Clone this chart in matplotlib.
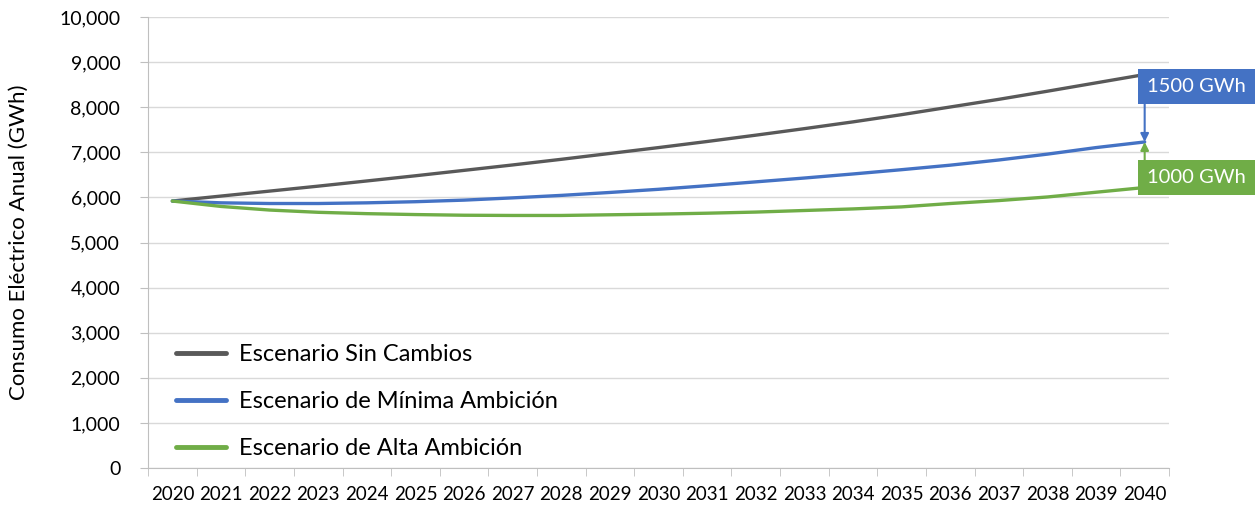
import numpy as np
import matplotlib.pyplot as plt

plt.rcParams['font.family'] = ['Lato', 'DejaVu Sans']

years = [str(y) for y in range(2020, 2041)]

sin_cambios = [5920, 6030, 6140, 6250, 6365, 6480, 6600, 6720, 6845, 6975, 7105,
               7240, 7380, 7525, 7675, 7835, 8005, 8175, 8355, 8540, 8725]
minima = [5920, 5880, 5865, 5865, 5880, 5905, 5940, 5990, 6045, 6110, 6180,
          6260, 6345, 6430, 6520, 6615, 6715, 6830, 6960, 7105, 7230]
alta = [5920, 5800, 5720, 5670, 5640, 5620, 5605, 5600, 5600, 5615, 5630,
        5650, 5675, 5710, 5745, 5790, 5865, 5930, 6010, 6115, 6220]

labels = ["Escenario Sin Cambios", "Escenario de Mínima Ambición", "Escenario de Alta Ambición"]
colors = ["#595959", "#4472C4", "#70AD47"]

fig = plt.figure(figsize=(12.59, 5.08), dpi=100)
ax = fig.add_axes([0.1176, 0.0787, 0.8109, 0.8878])

x = np.arange(len(years))
for vals, lab, col in zip([sin_cambios, minima, alta], labels, colors):
    ax.plot(x, vals, color=col, lw=2.4, label=lab, solid_capstyle='round')

ax.set_xlim(-0.5, len(years) - 0.5)
ax.set_ylim(0, 10000)
ax.set_yticks(range(0, 10001, 1000))
ax.set_yticklabels([f"{v:,}" for v in range(0, 10001, 1000)], fontsize=14)
ax.set_xticks(x)
ax.set_xticklabels(years, fontsize=13.5)
ax.set_xticks(np.arange(-0.5, len(years), 1), minor=True)
ax.tick_params(axis='x', which='major', length=0, pad=13)
ax.tick_params(axis='x', which='minor', length=6, color='#bfbfbf')
ax.tick_params(axis='y', length=6, color='#bfbfbf', pad=14)

ax.grid(axis='y', color='#d9d9d9', lw=1)
ax.set_axisbelow(True)
for s in ['top', 'right']:
    ax.spines[s].set_visible(False)
ax.spines['left'].set_color('#bfbfbf')
ax.spines['bottom'].set_color('#bfbfbf')

ax.set_ylabel("Consumo Eléctrico Anual (GWh)", fontsize=16, labelpad=22)

leg = ax.legend(loc='upper left', bbox_to_anchor=(0.007, 0.322), frameon=False, fontsize=17,
                handlelength=2.1, labelspacing=1.1, handletextpad=0.55)
for h in leg.get_lines():
    h.set_linewidth(3.5)

# difference arrows at 2040
last = len(years) - 1
ax.annotate("", xy=(last, sin_cambios[-1]), xytext=(last, minima[-1]),
            arrowprops=dict(arrowstyle='<|-|>', color=colors[1], lw=1.5,
                            shrinkA=0, shrinkB=0, mutation_scale=12))
ax.annotate("", xy=(last, minima[-1]), xytext=(last, alta[-1]),
            arrowprops=dict(arrowstyle='<|-|>', color=colors[2], lw=1.5,
                            shrinkA=0, shrinkB=0, mutation_scale=12))

ax.text(last + 0.04, 8460, "1500 GWh", color='white', fontsize=14.5, va='center', ha='left',
        clip_on=False, bbox=dict(boxstyle='square,pad=0.45', fc=colors[1], ec='none'))
ax.text(last + 0.04, 6440, "1000 GWh", color='white', fontsize=14.5, va='center', ha='left',
        clip_on=False, bbox=dict(boxstyle='square,pad=0.45', fc=colors[2], ec='none'))

fig.savefig("out.png", dpi=100)
